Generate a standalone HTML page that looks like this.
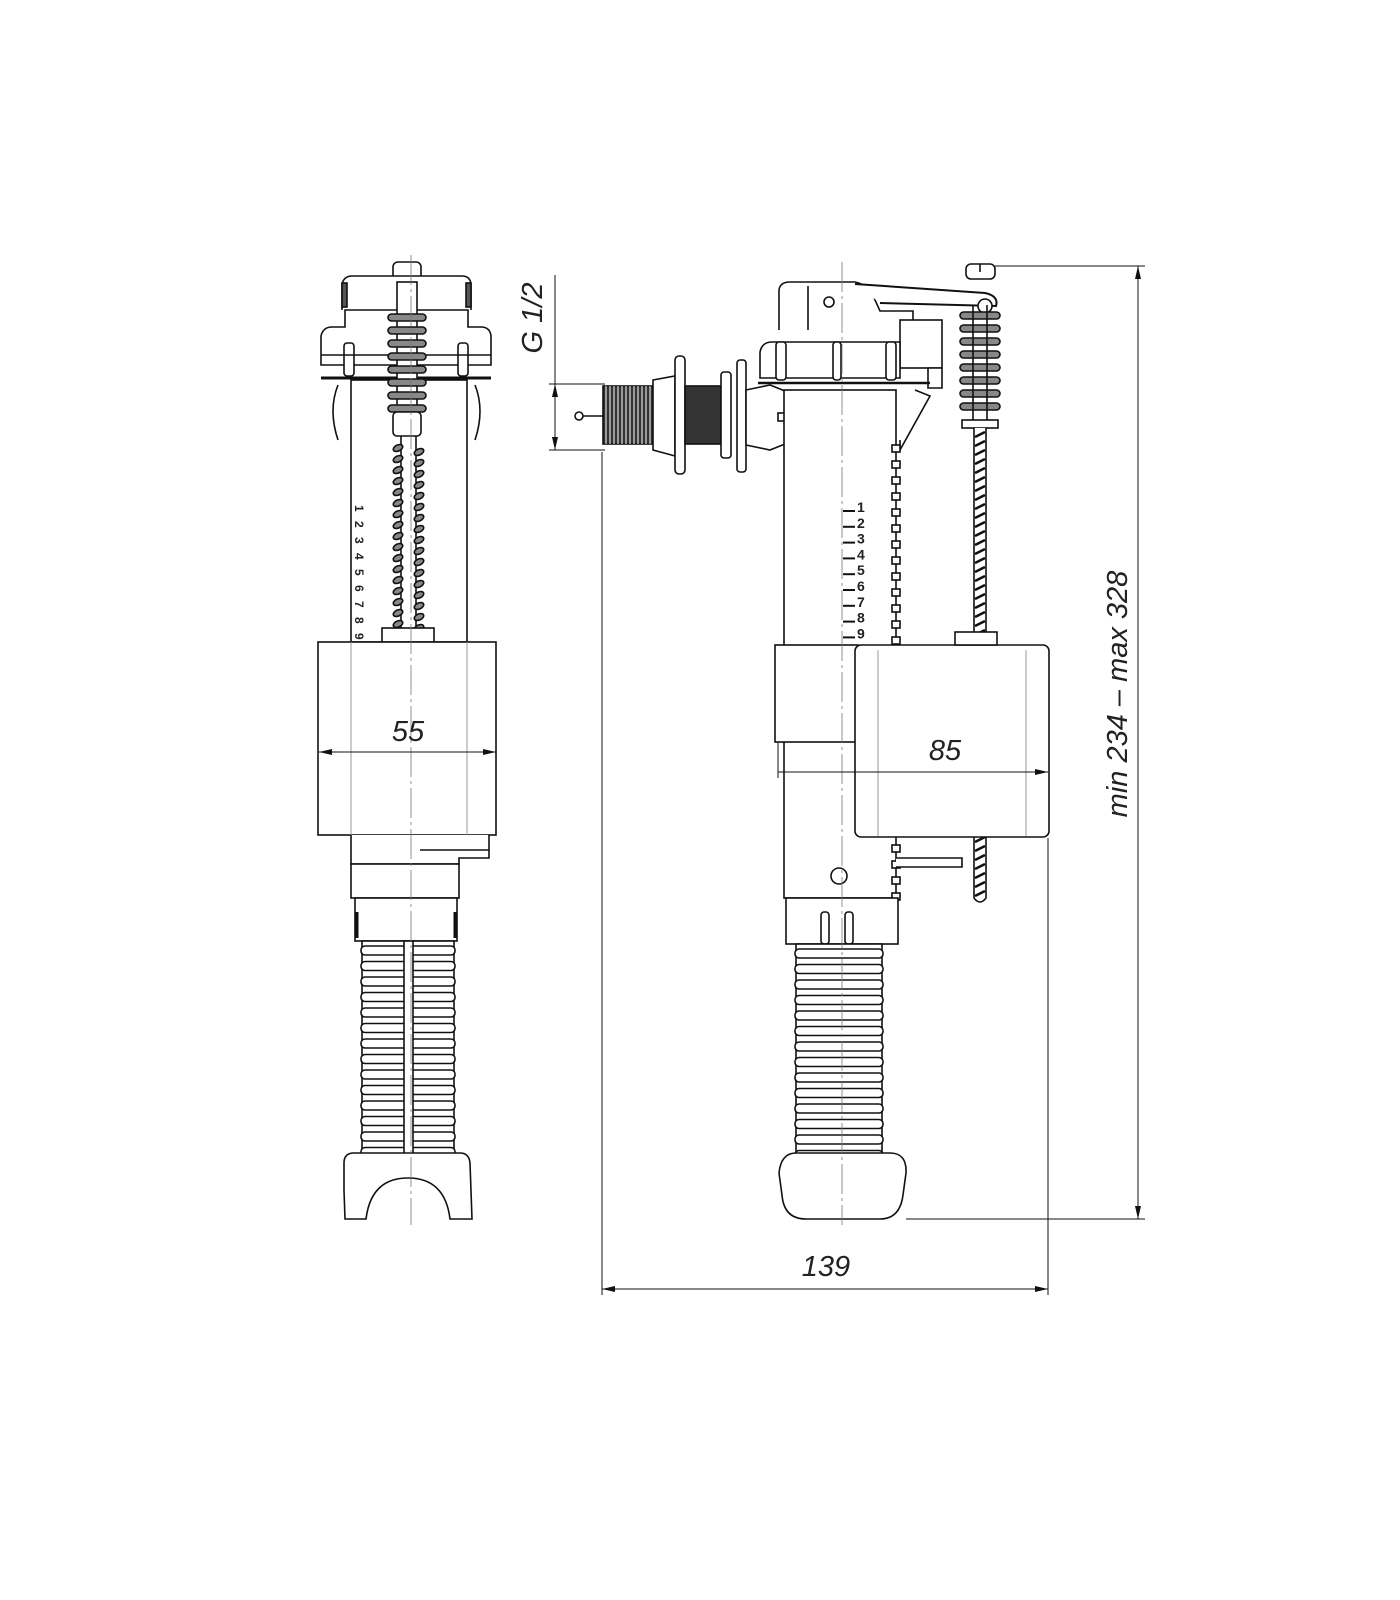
<!DOCTYPE html>
<html><head><meta charset="utf-8"><style>
html,body{margin:0;padding:0;background:#fff;}
svg{display:block;}
text{font-family:"Liberation Sans",sans-serif;font-style:italic;fill:#222;}
</style></head><body>
<svg id="s" width="1400" height="1600" viewBox="0 0 1400 1600" xmlns="http://www.w3.org/2000/svg" fill="none" stroke="#111" stroke-width="1.6">
<defs>
<marker id="ar" markerWidth="14" markerHeight="8" refX="13" refY="4" orient="auto-start-reverse" markerUnits="userSpaceOnUse"><path d="M0,1 L13,4 L0,7" fill="#111" stroke="none"/></marker>
</defs>
<g id="L">
<rect x="393" y="262" width="28" height="18" rx="5" fill="#fff"/>
<path d="M342,310 L342,284 Q344,276 352,276 L462,276 Q470,276 471,284 L471,310" fill="#fff"/>
<rect x="342" y="283" width="5" height="24" fill="#555"/>
<rect x="466" y="283" width="5" height="24" fill="#555"/>
<path d="M321,365 L321,336 Q323,327 332,327 L345,327 L345,310 L468,310 L468,327 L481,327 Q490,327 491,336 L491,365 Z" fill="#fff"/>
<rect x="344" y="343" width="10" height="33" rx="3" fill="#fff"/>
<rect x="458" y="343" width="10" height="33" rx="3" fill="#fff"/>
<line x1="321" y1="355" x2="491" y2="355"/>
<line x1="321" y1="378" x2="491" y2="378" stroke-width="3"/>
<path d="M338,385 Q328,410 338,440 M475,385 Q485,410 475,440"/>
<rect x="351" y="380" width="116" height="262" fill="#fff"/>
<g id="lspring"></g>
<rect x="318" y="642" width="178" height="193" fill="#fff"/>
<line x1="351" y1="642" x2="351" y2="835" stroke="#999" stroke-width="1"/>
<line x1="467" y1="642" x2="467" y2="835" stroke="#999" stroke-width="1"/>
<path d="M351,835 L351,864 L459,864 L459,858 L489,858 L489,835" fill="#fff"/>
<line x1="420" y1="850" x2="489" y2="850"/>
<rect x="351" y="864" width="108" height="34" fill="#fff"/>
<rect x="355" y="898" width="102" height="43" fill="#fff"/>
<line x1="357" y1="912" x2="357" y2="938" stroke-width="3"/>
<line x1="455" y1="912" x2="455" y2="938" stroke-width="3"/>
<g id="lhose"></g>
<path d="M344,1190 L344,1163 Q344,1153 354,1153 L460,1153 Q469,1153 470,1163 L472,1219 L450,1219 Q445,1178 408,1178 Q371,1178 366,1219 L345,1219 Z" fill="#fff"/>
<line x1="411" y1="255" x2="411" y2="1225" stroke="#777" stroke-width="0.8" stroke-dasharray="30,4,3,4"/>
</g>
<g id="R">
<circle cx="579" cy="416" r="4" fill="#fff"/>
<line x1="583" y1="416" x2="605" y2="416"/>
<rect x="603" y="386" width="50" height="58" fill="#333"/>
<g id="thr"></g>
<path d="M653,380 L675,376 L675,456 L653,450 Z" fill="#fff"/>
<rect x="675" y="356" width="10" height="118" rx="4" fill="#fff"/>
<rect x="685" y="386" width="36" height="58" fill="#333"/>
<rect x="721" y="372" width="10" height="86" rx="3" fill="#fff"/>
<rect x="737" y="360" width="9" height="112" rx="3" fill="#fff"/>
<path d="M746,390 L770,385 L795,395 L795,440 L770,450 L746,445 Z" fill="#fff"/>
<rect x="778" y="413" width="20" height="8" fill="#fff"/>
<path d="M779,330 L779,290 Q780,282 790,282 L855,282 Q870,285 875,300 L880,311 L913,311 L913,330" fill="#fff"/>
<line x1="808" y1="286" x2="808" y2="330"/>
<circle cx="829" cy="302" r="5"/>
<path d="M855,284 L985,293 Q999,296 996,306 L880,303" fill="#fff" stroke-width="2"/>
<circle cx="985" cy="306" r="7" fill="#fff"/>
<rect x="900" y="320" width="42" height="48" fill="#fff"/>
<path d="M760,378 L760,352 Q762,342 772,342 L900,342 L900,378 Z" fill="#fff"/>
<rect x="776" y="342" width="10" height="38" rx="3" fill="#fff"/>
<rect x="833" y="342" width="8" height="38" rx="3" fill="#fff"/>
<rect x="886" y="342" width="10" height="38" rx="3" fill="#fff"/>
<path d="M928,368 L942,368 L942,388 L928,388 Z" fill="#fff"/>
<line x1="758" y1="383" x2="930" y2="383" stroke-width="2.5"/>
<path d="M915,390 L930,396 L900,450 L900,440"/>
<rect x="784" y="390" width="112" height="508" fill="#fff"/>
<g id="ticks"></g>
<g id="nums"></g>
<g id="rrod"></g>
<rect x="775" y="645" width="83" height="97" fill="#fff"/>
<rect x="855" y="645" width="194" height="192" rx="6" fill="#fff"/>
<line x1="878" y1="650" x2="878" y2="836" stroke="#999" stroke-width="1"/>
<line x1="1026" y1="650" x2="1026" y2="836" stroke="#999" stroke-width="1"/>
<rect x="955" y="632" width="42" height="13" fill="#fff"/>
<path d="M896,858 L962,858 L962,867 L896,867" fill="#fff"/>
<circle cx="839" cy="876" r="8"/>
<rect x="786" y="898" width="112" height="46" fill="#fff"/>
<rect x="821" y="912" width="8" height="32" rx="3"/>
<rect x="845" y="912" width="8" height="32" rx="3"/>
<g id="rhose"></g>
<path d="M779,1173 Q781,1153 796,1153 L890,1153 Q907,1153 906,1173 L903,1195 Q900,1219 880,1219 L806,1219 Q784,1219 782,1195 Z" fill="#fff"/>
<line x1="842" y1="262" x2="842" y2="1225" stroke="#777" stroke-width="0.8" stroke-dasharray="30,4,3,4"/>
</g>
<g stroke-width="1">
<line x1="319" y1="752" x2="496" y2="752" marker-start="url(#ar)" marker-end="url(#ar)"/>
<line x1="778" y1="772" x2="1048" y2="772" marker-end="url(#ar)"/>
<line x1="778" y1="742" x2="778" y2="778"/>
<line x1="602" y1="452" x2="602" y2="1295"/>
<line x1="1048" y1="838" x2="1048" y2="1295"/>
<line x1="602" y1="1289" x2="1048" y2="1289" marker-start="url(#ar)" marker-end="url(#ar)"/>
<line x1="995" y1="266" x2="1145" y2="266"/>
<line x1="906" y1="1219" x2="1145" y2="1219"/>
<line x1="1138" y1="266" x2="1138" y2="1219" marker-start="url(#ar)" marker-end="url(#ar)"/>
<line x1="549" y1="384" x2="605" y2="384"/>
<line x1="549" y1="450" x2="605" y2="450"/>
<line x1="555" y1="275" x2="555" y2="450" marker-end="url(#ar)"/>
<line x1="555" y1="430" x2="555" y2="384" marker-end="url(#ar)"/>
</g>
<g stroke="none">
<text x="408" y="741" font-size="29" text-anchor="middle" fill="#333">55</text>
<text x="945" y="760" font-size="29" text-anchor="middle" fill="#333">85</text>
<text x="826" y="1276" font-size="29" text-anchor="middle" fill="#333">139</text>
<text transform="translate(1127,694) rotate(-90)" font-size="29" text-anchor="middle" fill="#333">min 234 – max 328</text>
<text transform="translate(542,318) rotate(-90)" font-size="29" text-anchor="middle" fill="#333">G 1/2</text>
</g>
</svg>
<script>
var NS="http://www.w3.org/2000/svg";
function el(p,t,a){var e=document.createElementNS(NS,t);for(var k in a)e.setAttribute(k,a[k]);document.getElementById(p).appendChild(e);return e;}
el("lspring","rect",{x:397,y:282,width:20,height:130,fill:"#fff"});
for(var i=0;i<8;i++){el("lspring","rect",{x:388,y:314+i*13,width:38,height:7,rx:3.5,fill:"#888"});}
el("lspring","rect",{x:393,y:412,width:28,height:24,rx:4,fill:"#fff"});
el("lspring","line",{x1:401,y1:436,x2:401,y2:895});el("lspring","line",{x1:416,y1:436,x2:416,y2:895});
for(var y=448;y<630;y+=11){el("lspring","ellipse",{cx:398,cy:y,rx:5,ry:3,fill:"#888",transform:"rotate(-25 398 "+y+")"});el("lspring","ellipse",{cx:419,cy:y+4,rx:5,ry:3,fill:"#888",transform:"rotate(-25 419 "+(y+4)+")"});}
for(var y=842;y<885;y+=13){el("lspring","ellipse",{cx:398,cy:y,rx:5,ry:3,fill:"#888"});el("lspring","ellipse",{cx:419,cy:y+4,rx:5,ry:3,fill:"#888"});}
el("lspring","rect",{x:382,y:628,width:52,height:14,fill:"#fff"});
var ln=["1","2","3","4","5","6","7","8","9"];
for(var i=0;i<9;i++){var yy=505+i*16;var t=el("lspring","text",{x:355,y:yy,"font-size":"12","font-weight":"bold",stroke:"none",fill:"#111",transform:"rotate(90 355 "+yy+")"});t.style.fontStyle="normal";t.textContent=ln[i];}
el("lhose","rect",{x:362,y:941,width:92,height:212,fill:"#fff"});
for(var y=946;y<1150;y+=15.5){el("lhose","rect",{x:361,y:y,width:94,height:9,rx:4,fill:"#fff"});}
el("lhose","rect",{x:404,y:941,width:9,height:225,fill:"#fff"});
for(var x=606;x<652;x+=4){el("thr","line",{x1:x,y1:386,x2:x,y2:444,stroke:"#fff","stroke-width":"1"});}
for(var y=445;y<640;y+=16){el("ticks","rect",{x:892,y:y,width:8,height:7,fill:"#fff"});}
for(var y=845;y<895;y+=16){el("ticks","rect",{x:892,y:y,width:8,height:7,fill:"#fff"});}
for(var i=0;i<9;i++){var y=511+i*15.8;el("nums","line",{x1:843,y1:y,x2:855,y2:y,"stroke-width":"2"});var t=el("nums","text",{x:857,y:y+1,"font-size":"14","font-weight":"bold",stroke:"none",fill:"#111"});t.style.fontStyle="normal";t.textContent=ln[i];}
el("rrod","rect",{x:966,y:264,width:29,height:15,rx:5,fill:"#fff"});
el("rrod","line",{x1:980,y1:264,x2:980,y2:272});
for(var i=0;i<8;i++){el("rrod","rect",{x:960,y:312+i*13,width:40,height:7,rx:3.5,fill:"#888"});}
el("rrod","line",{x1:973,y1:305,x2:973,y2:420});el("rrod","line",{x1:987,y1:305,x2:987,y2:420});
el("rrod","rect",{x:962,y:420,width:36,height:8,fill:"#fff"});
el("rrod","path",{d:"M974,428 L974,898 Q980,906 986,898 L986,428",fill:"#fff"});
for(var y=432;y<898;y+=9){el("rrod","line",{x1:975,y1:y+5,x2:985,y2:y,"stroke-width":"2.5"});}
el("rhose","rect",{x:796,y:944,width:86,height:209,fill:"#fff"});
for(var y=949;y<1152;y+=15.5){el("rhose","rect",{x:795,y:y,width:88,height:9,rx:4,fill:"#fff"});}
</script>
</body></html>
